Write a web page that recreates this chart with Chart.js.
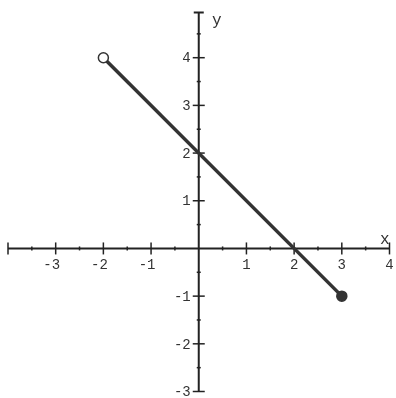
<!DOCTYPE html>
<html lang="en">
<head>
  <meta charset="UTF-8" />
  <title>Line segment</title>
  <script src="https://cdn.jsdelivr.net/npm/chart.js"></script>
  <style>
    html, body { margin: 0; padding: 0; background: #fff; }
    #wrap { width: 396px; height: 398px; }
  </style>
</head>
<body>
<div id="wrap"><canvas id="graph" width="396" height="398"></canvas></div>
<script>
  // data
  const segX = [-2, 3];
  const segY = [4, -1];
  const pointFill = ['#ffffff', '#333333']; // open at start, closed at end
  const xTickLabels = [-3, -2, -1, 1, 2, 3, 4];
  const yTickLabels = [-3, -2, -1, 1, 2, 3, 4];
  const xRange = [-4, 4];
  const yRange = [-3, 4.95];

  const font = '14px "Liberation Mono", "DejaVu Sans Mono", monospace';

  // axes drawn through the cartesian scales
  const crossAxes = {
    id: 'crossAxes',
    beforeDatasetsDraw(chart) {
      const { ctx, scales: { x, y } } = chart;
      const x0 = x.getPixelForValue(0);
      const y0 = y.getPixelForValue(0);
      ctx.save();
      ctx.strokeStyle = '#222';
      ctx.lineWidth = 2;
      ctx.beginPath();
      ctx.moveTo(x.getPixelForValue(xRange[0]), y0);
      ctx.lineTo(x.getPixelForValue(xRange[1]), y0);
      ctx.moveTo(x0, y.getPixelForValue(yRange[0]));
      ctx.lineTo(x0, y.getPixelForValue(yRange[1]));
      // cap at the top of the y axis
      ctx.moveTo(x0 - 5, y.getPixelForValue(yRange[1]));
      ctx.lineTo(x0 + 5, y.getPixelForValue(yRange[1]));
      ctx.stroke();

      ctx.lineWidth = 1.5;
      // x ticks, every half unit
      for (let v = xRange[0]; v <= xRange[1]; v += 0.5) {
        if (v === 0) continue;
        const px = x.getPixelForValue(v);
        const len = Number.isInteger(v) ? 6 : 2;
        ctx.beginPath();
        ctx.moveTo(px, y0 - len);
        ctx.lineTo(px, y0 + len);
        ctx.stroke();
      }
      // y ticks
      for (let v = yRange[0]; v <= yRange[1]; v += 0.5) {
        if (v === 0) continue;
        const py = y.getPixelForValue(v);
        const len = Number.isInteger(v) ? 6 : 2;
        ctx.beginPath();
        ctx.moveTo(x0 - len, py);
        ctx.lineTo(x0 + len, py);
        ctx.stroke();
      }

      ctx.fillStyle = '#333';
      ctx.font = font;
      ctx.textAlign = 'center';
      ctx.textBaseline = 'middle';
      xTickLabels.forEach(v => {
        ctx.fillText(String(v), x.getPixelForValue(v) - (v < 0 ? 4 : 0), y0 + 17);
      });
      ctx.textAlign = 'right';
      yTickLabels.forEach(v => {
        ctx.fillText(String(v), x0 - 8, y.getPixelForValue(v) + 1);
      });

      ctx.font = '16px "Liberation Mono", "DejaVu Sans Mono", monospace';
      ctx.textAlign = 'center';
      ctx.fillText('x', x.getPixelForValue(3.9), y0 - 9);
      ctx.fillText('y', x0 + 18, y.getPixelForValue(4.78));
      ctx.restore();
    }
  };

  new Chart(document.getElementById('graph'), {
    type: 'scatter',
    data: {
      datasets: [{
        data: segX.map((v, i) => ({ x: v, y: segY[i] })),
        showLine: true,
        borderColor: '#333333',
        borderWidth: 3.5,
        pointRadius: 5,
        pointBorderWidth: 1.5,
        pointBorderColor: '#333',
        pointBackgroundColor: pointFill
      }]
    },
    options: {
      responsive: false,
      animation: false,
      layout: { padding: { left: 8, right: 4, top: 12.4, bottom: 4 } },
      plugins: { legend: { display: false }, tooltip: { enabled: false } },
      scales: {
        x: { type: 'linear', min: xRange[0], max: xRange[1], display: false },
        y: { type: 'linear', min: yRange[0], max: yRange[1], display: false }
      }
    },
    plugins: [crossAxes]
  });
</script>
</body>
</html>
